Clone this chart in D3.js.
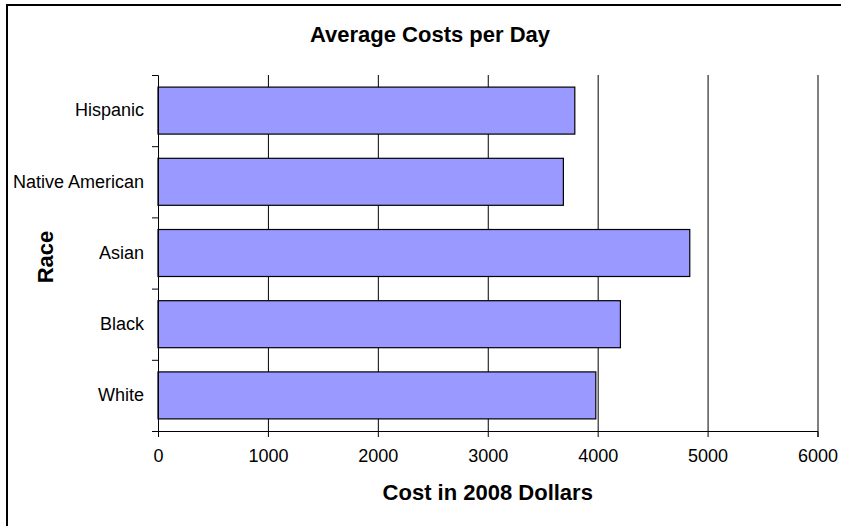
<!DOCTYPE html>
<html>
<head>
<meta charset="utf-8">
<script src="https://d3js.org/d3.v7.min.js"></script>
<style>
  html, body { margin: 0; background: #fff; overflow: hidden; }
  svg { display: block; font-family: "Liberation Sans", Arial, sans-serif; }
</style>
</head>
<body>
<svg></svg>
<script>
// data
var races = ["Hispanic", "Native American", "Asian", "Black", "White"];
var costs = [3792, 3688, 4838, 4207, 3983];
var xTicks = [0, 1000, 2000, 3000, 4000, 5000, 6000];

var width = 841, height = 526;
var plot = {left: 158, right: 817.5, top: 75, bottom: 431};

var svg = d3.select("svg")
    .attr("width", width)
    .attr("height", height);

// outer chart border (runs off the right and bottom of the picture)
svg.append("rect")
    .attr("x", 7).attr("y", 5)
    .attr("width", 900).attr("height", 540)
    .attr("fill", "#fff")
    .attr("stroke", "#000")
    .attr("stroke-width", 2);

var x = d3.scaleLinear()
    .domain([0, 6000])
    .range([plot.left, plot.right]);

var y = d3.scaleBand()
    .domain(races)
    .range([plot.top, plot.bottom])
    .paddingInner(0.34)
    .paddingOuter(0.17);

// vertical gridlines
svg.append("g")
    .attr("transform", "translate(0," + plot.bottom + ")")
    .call(d3.axisBottom(x).tickValues(xTicks.slice(1)).tickSize(-(plot.bottom - plot.top)).tickFormat(""))
    .call(function(g) { g.select(".domain").remove(); })
    .selectAll("line")
    .attr("stroke", "#000");

// bars
svg.append("g")
    .selectAll("rect")
    .data(races)
    .enter()
    .append("rect")
    .attr("x", x(0))
    .attr("y", function(d) { return y(d); })
    .attr("width", function(d, i) { return x(costs[i]) - x(0); })
    .attr("height", y.bandwidth())
    .attr("fill", "#9999ff")
    .attr("stroke", "#000")
    .attr("stroke-width", 1.2);

// x axis
var xAxis = svg.append("g")
    .attr("transform", "translate(0," + plot.bottom + ")")
    .call(d3.axisBottom(x).tickValues(xTicks).tickSize(6).tickPadding(12).tickFormat(d3.format("d")));
xAxis.selectAll("text")
    .attr("font-size", "18px")
    .attr("fill", "#000")
    .style("font-family", "'Liberation Sans', Arial, sans-serif");
xAxis.selectAll("line, path").attr("stroke", "#000");

// y axis: tick marks at the category boundaries
var yEdge = d3.scaleLinear()
    .domain([0, races.length])
    .range([plot.bottom, plot.top]);
var yAxis = svg.append("g")
    .attr("transform", "translate(" + plot.left + ",0)")
    .call(d3.axisLeft(yEdge).tickValues(d3.range(races.length + 1)).tickSize(6).tickFormat(""));
yAxis.selectAll("line, path").attr("stroke", "#000");

// y category labels
var yLabels = svg.append("g")
    .attr("transform", "translate(" + plot.left + ",0)")
    .call(d3.axisLeft(y).tickSize(0).tickPadding(14));
yLabels.select(".domain").remove();
yLabels.selectAll("text")
    .attr("font-size", "18px")
    .attr("fill", "#000")
    .style("font-family", "'Liberation Sans', Arial, sans-serif");

// titles
svg.append("text")
    .attr("x", 430).attr("y", 42)
    .attr("text-anchor", "middle")
    .attr("font-size", "22px")
    .attr("font-weight", "bold")
    .text("Average Costs per Day");

svg.append("text")
    .attr("x", (plot.left + plot.right) / 2).attr("y", 500)
    .attr("text-anchor", "middle")
    .attr("font-size", "22px")
    .attr("font-weight", "bold")
    .text("Cost in 2008 Dollars");

svg.append("text")
    .attr("transform", "translate(53," + 257 + ") rotate(-90)")
    .attr("text-anchor", "middle")
    .attr("font-size", "22px")
    .attr("font-weight", "bold")
    .text("Race");
</script>
</body>
</html>
